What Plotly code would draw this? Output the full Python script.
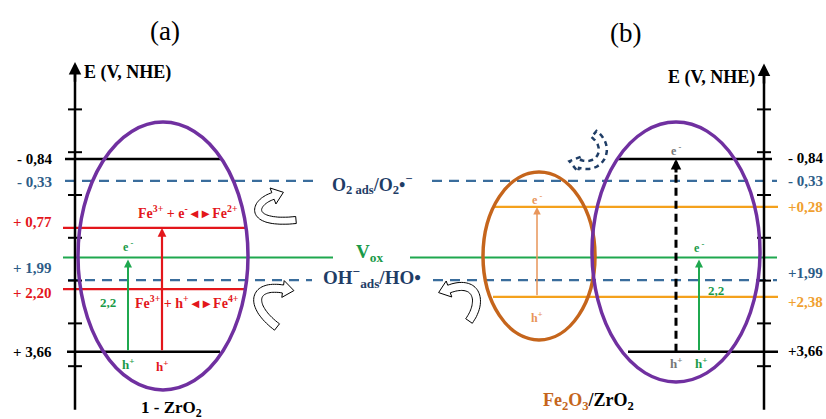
import numpy as np
import plotly.graph_objects as go

# ---------------- data ----------------
left_levels = [-0.84, -0.33, 0.77, 1.99, 2.20, 3.66]
left_labels = ["- 0,84", "- 0,33", "+ 0,77", "+ 1,99", "+ 2,20", "+ 3,66"]
right_levels = [-0.84, -0.33, 0.28, 1.99, 2.38, 3.66]
right_labels = ["- 0,84", "- 0,33", "+0,28", "+1,99", "+2,38", "+3,66"]
band_gap = 2.2
gap_label = "2,2"
axis_ticks = [-2, -1, 0, 1, 2, 3, 4]

# ---------------- styling ----------------
W, H = 826, 419
E_RANGE = [5.234, -4.556]
BLACK = "#000000"
BLUE = "#3a6d9c"
BLUE_TXT = "#2d5c87"
NAVY = "#1f3d66"
RED = "#e3161b"
GREEN = "#1fa84f"
GREEN_TXT = "#1a9a48"
PURPLE = "#7030a0"
BROWN = "#c5651c"
ORANGE = "#f4a11c"
ORANGE_TXT = "#f0a030"
ORANGE_ARROW = "#e8955a"
GRAY = "#777777"
SERIF = "Liberation Serif, Times New Roman, serif"

vox = left_levels[-1] - band_gap  # vacancy level reached by the 2.2 eV excitation

fig = go.Figure()


def hline(E, x0, x1, color, width=2.2, dash="solid"):
    fig.add_trace(go.Scatter(x=[x0, x1], y=[E, E], mode="lines",
                             line=dict(color=color, width=width, dash=dash),
                             hoverinfo="skip", showlegend=False))


DASH = "10px,7px"
left_style = [  # color, dash, x0, x1, width
    (BLACK, "solid", 65, 222, 2.5),
    (BLUE, DASH, 65, 317, 2.2),
    (RED, "solid", 63, 247, 2.2),
    (BLUE, DASH, 68, 312, 2.2),
    (RED, "solid", 63, 247, 2.2),
    (BLACK, "solid", 67, 220, 2.5),
]
right_style = [
    (BLACK, "solid", 618, 772, 2.5),
    (BLUE, DASH, 432, 777, 2.2),
    (ORANGE, "solid", 493, 778, 2.2),
    (BLUE, DASH, 433, 777, 2.2),
    (ORANGE, "solid", 493, 778, 2.2),
    (BLACK, "solid", 628, 778, 2.5),
]
for E, (c, d, x0, x1, w) in zip(left_levels, left_style):
    hline(E, x0, x1, c, w, d)
for E, (c, d, x0, x1, w) in zip(right_levels, right_style):
    hline(E, x0, x1, c, w, d)
# vacancy level
hline(vox, 63, 333, GREEN, 2.2)
hline(vox, 410, 777, GREEN, 2.2)

# energy axes with cross ticks
for xa, top in [(75, -3.01), (764, -2.97)]:
    fig.add_trace(go.Scatter(x=[xa, xa], y=[5.02, top], mode="lines",
                             line=dict(color=BLACK, width=2.5),
                             hoverinfo="skip", showlegend=False))
    tx, ty = [], []
    for t in axis_ticks:
        tx += [xa - 7, xa + 7, None]
        ty += [t, t, None]
    fig.add_trace(go.Scatter(x=tx, y=ty, mode="lines",
                             line=dict(color=BLACK, width=2),
                             hoverinfo="skip", showlegend=False))
    fig.add_annotation(x=xa, y=top - 0.1, ax=xa, ay=top + 0.4, xref="x", yref="y",
                       axref="x", ayref="y", text="", showarrow=True,
                       arrowhead=2, arrowsize=1.0, arrowwidth=2.5, arrowcolor=BLACK)

# dashed excitation line in ZrO2 of (b)
fig.add_trace(go.Scatter(x=[676, 676], y=[right_levels[-1], right_levels[0] + 0.2], mode="lines",
                         line=dict(color=BLACK, width=3, dash="8px,5px"),
                         hoverinfo="skip", showlegend=False))
# invisible trace on pixel overlay axis
fig.add_trace(go.Scatter(x=[0], y=[0], yaxis="y2", mode="markers",
                         marker=dict(opacity=0), hoverinfo="skip", showlegend=False))


def varrow(x, y0, y1, color, width=2, size=0.8):
    fig.add_annotation(x=x, y=y1, ax=x, ay=y0, xref="x", yref="y", axref="x", ayref="y",
                       text="", showarrow=True, arrowhead=2, arrowsize=size,
                       arrowwidth=width, arrowcolor=color, standoff=0)


varrow(128, left_levels[-1], vox + 0.05, GREEN, 2)
varrow(162, left_levels[-1], left_levels[2], RED, 2.2)
varrow(537, right_levels[4], right_levels[2], ORANGE_ARROW, 1.5, 1.0)
varrow(699, right_levels[-1], vox + 0.05, GREEN, 2)
fig.add_annotation(x=676, y=right_levels[0], ax=676, ay=right_levels[0] + 0.35,
                   xref="x", yref="y", axref="x", ayref="y", text="", showarrow=True,
                   arrowhead=2, arrowsize=0.7, arrowwidth=3, arrowcolor=BLACK, standoff=0)

# ---------------- decorations in pixel space ----------------
shapes = []
for (x0, x1, y0, y1, c) in [(78, 248, 122, 390, PURPLE), (483, 595, 172, 340, BROWN),
                            (592, 760, 122, 382, PURPLE)]:
    shapes.append(dict(type="circle", xref="x", yref="y2", x0=x0, x1=x1, y0=y0, y1=y1,
                       line=dict(color=c, width=3.5), layer="above"))


def bez(P, n=40):
    t = np.linspace(0, 1, n)[:, None]
    P = np.array(P, float)
    return ((1 - t) ** 3) * P[0] + 3 * ((1 - t) ** 2) * t * P[1] + 3 * (1 - t) * t ** 2 * P[2] + t ** 3 * P[3]


def hollow_arrow(P, w, hw, hl):
    c = bez(P)
    d = np.gradient(c, axis=0)
    d /= np.linalg.norm(d, axis=1)[:, None]
    nrm = np.stack([-d[:, 1], d[:, 0]], axis=1)
    a = c + nrm * w / 2
    b = c - nrm * w / 2
    end, te, ne = c[-1], d[-1], nrm[-1]
    pts = list(a) + [end + ne * hw / 2, end + te * hl, end - ne * hw / 2] + list(b[::-1])
    return "M " + " L ".join(f"{x:.1f},{y:.1f}" for x, y in pts) + " Z"


for P, w in [([(296, 220), (248, 225), (252, 203), (273, 196)], 7),
             ([(277, 327), (248, 305), (253, 284), (283, 289)], 8),
             ([(469, 321), (484, 300), (476, 279), (449, 289)], 8)]:
    shapes.append(dict(type="path", xref="x", yref="y2", path=hollow_arrow(P, w, 17, 11),
                       fillcolor="white", line=dict(color=BLACK, width=1)))
shapes.append(dict(type="path", xref="x", yref="y2",
                   path=hollow_arrow([(594, 134), (612, 148), (600, 170), (580, 164)], 8, 16, 11),
                   fillcolor="rgba(0,0,0,0)", line=dict(color=NAVY, width=2.5, dash="5px,4px")))

# ---------------- text ----------------
def txt(x, y, s, color=BLACK, size=15, ref="y2", xanchor="center", yshift=0, bold=True):
    fig.add_annotation(x=x, y=y, xref="x", yref=ref, text=f"<b>{s}</b>" if bold else s,
                       showarrow=False, xanchor=xanchor, yanchor="middle", yshift=yshift,
                       font=dict(family=SERIF, size=size, color=color))


left_col = [BLACK, BLUE_TXT, RED, BLUE_TXT, RED, BLACK]
left_shift = [0, -1, 6, 12, -4, 0]
for E, s, c, sh in zip(left_levels, left_labels, left_col, left_shift):
    txt(54, E, s, c, 15, "y", "right", sh)
right_col = [BLACK, BLUE_TXT, ORANGE_TXT, BLUE_TXT, ORANGE_TXT, BLACK]
right_shift = [1, 0, 0, 7, -5, 1]
for E, s, c, sh in zip(right_levels, right_labels, right_col, right_shift):
    txt(786, E, s, c, 15, "y", "left", sh)

txt(165, 31, "(a)", BLACK, 27, bold=False)
txt(625, 33, "(b)", BLACK, 27, bold=False)
txt(82, 72, "E (V, NHE)", BLACK, 18, xanchor="left")
txt(757, 77, "E (V, NHE)", BLACK, 18, xanchor="right")

txt(372, right_levels[1], "O<sub>2 ads</sub>/O<sub>2</sub>•<sup>−</sup>", NAVY, 18, "y", yshift=-4)
txt(369, vox, "V<sub>ox</sub>", GREEN_TXT, 19, "y", yshift=4)
txt(372, right_levels[3], "OH<sup>−</sup><sub>ads</sub>/HO•", NAVY, 19, "y", yshift=3)

txt(188, 212, "Fe<sup>3+</sup> + e<sup>-</sup> ◂ ▸ Fe<sup>2+</sup>", RED, 14)
txt(187, 302, "Fe<sup>3+</sup> + h<sup>+</sup> ◂ ▸ Fe<sup>4+</sup>", RED, 14)
txt(128, 246, "e<sup> -</sup>", GREEN_TXT, 12)
txt(108, 302, gap_label, GREEN_TXT, 13)
txt(128, 364, "h<sup>+</sup>", GREEN_TXT, 13)
txt(162, 366, "h<sup>+</sup>", RED, 13)
txt(171, 409, "1 - ZrO<sub>2</sub>", BLACK, 17)

txt(537, 199, "e<sup> -</sup>", ORANGE_ARROW, 12)
txt(537, 317, "h<sup>+</sup>", ORANGE_ARROW, 12)
txt(676, 150, "e<sup> -</sup>", GRAY, 12)
txt(676, 363, "h<sup>+</sup>", GRAY, 13)
txt(699, 247, "e<sup> -</sup>", GREEN_TXT, 12)
txt(716, 290, gap_label, GREEN_TXT, 13)
txt(701, 363, "h<sup>+</sup>", GREEN_TXT, 13)
txt(588, 401, '<span style="color:#c5651c">Fe<sub>2</sub>O<sub>3</sub></span>/ZrO<sub>2</sub>',
    BLACK, 18)

fig.update_layout(
    width=W, height=H, autosize=False,
    margin=dict(l=0, r=0, t=0, b=0),
    paper_bgcolor="white", plot_bgcolor="white",
    xaxis=dict(range=[0, W], visible=False, fixedrange=True),
    yaxis=dict(range=E_RANGE, visible=False, fixedrange=True),
    yaxis2=dict(range=[H, 0], visible=False, overlaying="y", fixedrange=True),
    shapes=shapes, showlegend=False,
)
fig.write_html("out.html", config={"displayModeBar": False},
               post_script="document.body.style.margin='0';document.body.style.padding='0';")
